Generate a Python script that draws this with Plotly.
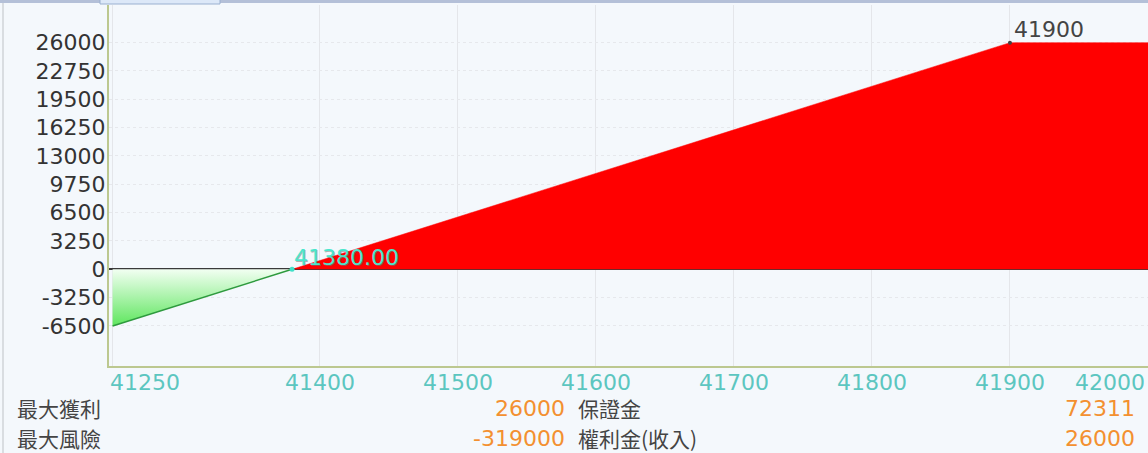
import plotly.graph_objects as go

# payoff curve (settlement price -> profit/loss)
prices = [41250, 41380, 41900, 42000]
pnl = [-6500, 0, 26000, 26000]

breakeven = 41380
max_point = 41900

y_ticks = [-6500, -3250, 0, 3250, 6500, 9750, 13000, 16250, 19500, 22750, 26000]
x_ticks = [41250, 41400, 41500, 41600, 41700, 41800, 41900, 42000]

info_left_labels = ["最大獲利", "最大風險"]
info_left_values = [26000, -319000]
info_right_labels = ["保證金", "權利金(收入)"]
info_right_values = [72311, 26000]

W, H = 1148, 453
L, R, T, B = 109, 0, 5, 87
PW, PH = W - L - R, H - T - B


def px_x(p):
    return (p - L) / PW


def px_y(p):
    return (H - B - p) / PH


CJK = "Noto Sans CJK TC, DejaVu Sans, sans-serif"
NUM = "DejaVu Sans, sans-serif"
FS = 22

# split into loss / profit parts
loss_x = [x for x, y in zip(prices, pnl) if y <= 0]
loss_y = [y for y in pnl if y <= 0]
gain_x = [x for x, y in zip(prices, pnl) if y >= 0]
gain_y = [y for y in pnl if y >= 0]

fig = go.Figure()

fig.add_trace(go.Scatter(
    x=gain_x, y=gain_y, mode="lines", fill="tozeroy",
    fillcolor="#ff0000", line=dict(color="#ff0000", width=0.5),
    hoverinfo="skip", showlegend=False))

fig.add_trace(go.Scatter(
    x=loss_x, y=loss_y, mode="lines", fill="tozeroy",
    fillgradient=dict(type="vertical",
                      colorscale=[[0, "#5ee65e"], [1, "#f2fff2"]]),
    line=dict(color="#2e9a3e", width=1.5),
    hoverinfo="skip", showlegend=False))

# breakeven + max profit points
be_y = pnl[prices.index(breakeven)]
mp_y = pnl[prices.index(max_point)]
fig.add_trace(go.Scatter(
    x=[breakeven], y=[be_y], mode="markers",
    marker=dict(color="#40e0c8", size=5), hoverinfo="skip", showlegend=False))
fig.add_trace(go.Scatter(
    x=[max_point], y=[mp_y], mode="markers",
    marker=dict(color="#444444", size=4), hoverinfo="skip", showlegend=False))

fig.add_annotation(x=breakeven, y=be_y, xref="x", yref="y",
                   text=f"{breakeven:.2f}", showarrow=False,
                   xanchor="left", yanchor="middle", yshift=12, xshift=0,
                   font=dict(family=NUM, size=FS, color="#4ae6cc",
                             shadow="1px 1px 0px rgba(110,120,120,0.55)"))
fig.add_annotation(x=max_point, y=mp_y, xref="x", yref="y",
                   text=str(max_point), showarrow=False,
                   xanchor="left", yanchor="middle", yshift=13, xshift=2,
                   font=dict(family=NUM, size=FS, color="#444444"))

# x tick labels (first / last kept inside the plot like the original)
for v in x_ticks:
    anchor, shift = "center", 0
    if v == x_ticks[0]:
        anchor, shift = "left", -5
    elif v == x_ticks[-1]:
        anchor, shift = "right", -1
    fig.add_annotation(x=v, y=px_y(382), xref="x", yref="paper",
                       text=str(v), showarrow=False, xanchor=anchor,
                       yanchor="middle", xshift=shift,
                       font=dict(family=NUM, size=FS, color="#5cc6c0"))

# info rows under the chart
rows_y = [408, 438]
for i, ry in enumerate(rows_y):
    fig.add_annotation(x=px_x(18), y=px_y(ry), xref="paper", yref="paper",
                       text=info_left_labels[i], showarrow=False,
                       xanchor="left", yanchor="middle", xshift=-3,
                       font=dict(family=CJK, size=21, color="#444444"))
    fig.add_annotation(x=px_x(567), y=px_y(ry), xref="paper", yref="paper",
                       text=str(info_left_values[i]), showarrow=False,
                       xanchor="right", yanchor="middle",
                       font=dict(family=NUM, size=FS, color="#f39030"))
    fig.add_annotation(x=px_x(579), y=px_y(ry), xref="paper", yref="paper",
                       text=info_right_labels[i], showarrow=False,
                       xanchor="left", yanchor="middle", xshift=-3,
                       font=dict(family=CJK, size=21, color="#444444"))
    fig.add_annotation(x=px_x(1137), y=px_y(ry), xref="paper", yref="paper",
                       text=str(info_right_values[i]), showarrow=False,
                       xanchor="right", yanchor="middle",
                       font=dict(family=NUM, size=FS, color="#f39030"))

# window chrome at the top
fig.add_shape(type="rect", xref="paper", yref="paper",
              x0=px_x(0), x1=px_x(W), y0=px_y(3), y1=px_y(0),
              fillcolor="#b4c0d8", line_width=0, layer="above")
fig.add_shape(type="rect", xref="paper", yref="paper",
              x0=px_x(100), x1=px_x(220), y0=px_y(4), y1=px_y(-2),
              fillcolor="#dce8f8", line=dict(color="#9ab0d0", width=1),
              layer="above")
fig.add_shape(type="line", xref="paper", yref="paper",
              x0=px_x(3), x1=px_x(3), y0=px_y(H), y1=px_y(3),
              line=dict(color="#d0d4d8", width=1.5))

fig.update_xaxes(
    range=[41247.4, 42000], tickvals=x_ticks, showticklabels=False,
    showgrid=True, gridcolor="#e4e6ea", gridwidth=1,
    showline=True, linecolor="#bcc890", linewidth=2,
    zeroline=False, ticks="", fixedrange=True)
fig.update_yaxes(
    range=[-11090, 30320], tickvals=y_ticks,
    ticktext=[str(v) for v in y_ticks],
    tickfont=dict(family=NUM, size=FS, color="#333333"),
    showgrid=True, gridcolor="#e6e8ec", gridwidth=1, griddash="dot",
    showline=True, linecolor="#bcc890", linewidth=2,
    zeroline=True, zerolinecolor="#3a3a3a", zerolinewidth=2,
    ticks="", ticklabelstandoff=-3, fixedrange=True)

fig.update_layout(
    width=W, height=H,
    margin=dict(l=L, r=R, t=T, b=B),
    paper_bgcolor="#f4f8fc", plot_bgcolor="#f4f8fc",
    showlegend=False,
)

fig.write_html("out.html", config={"displayModeBar": False},
               post_script="document.body.style.margin='0';")
